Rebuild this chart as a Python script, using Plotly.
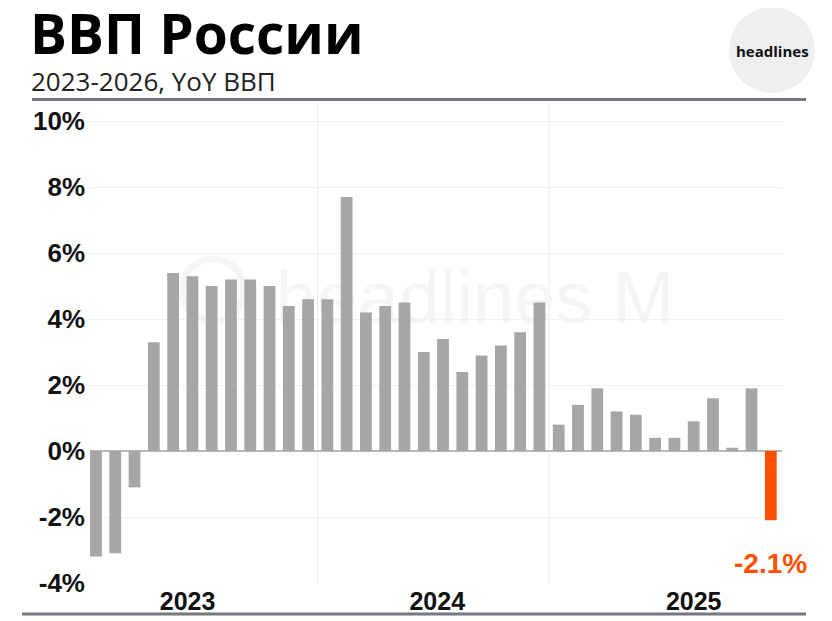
import plotly.graph_objects as go

# monthly GDP growth, % year over year (Jan 2023 - Dec 2025)
months = [f"{y}-{m:02d}" for y in (2023, 2024, 2025) for m in range(1, 13)]
gdp_yoy = [
    -3.2, -3.1, -1.1, 3.3, 5.4, 5.3, 5.0, 5.2, 5.2, 5.0, 4.4, 4.6,
    4.6, 7.7, 4.2, 4.4, 4.5, 3.0, 3.4, 2.4, 2.9, 3.2, 3.6, 4.5,
    0.8, 1.4, 1.9, 1.2, 1.1, 0.4, 0.4, 0.9, 1.6, 0.1, 1.9, -2.1,
]
year_labels = ["2023", "2024", "2025"]
y_ticks = [-4, -2, 0, 2, 4, 6, 8, 10]

GRAY = "#a6a6a6"
ORANGE = "#ff5000"
OFF = 8  # the page body margin
W, H = 832 - OFF, 621 - OFF
L, T = 90 - OFF, 104 - OFF
PW, PH = 692, 480
R, B = W - L - PW, H - T - PH

# page pixel -> paper helpers for the decorations around the plot
def px_x(p):
    return (p - OFF - L) / PW

def px_y(p):
    return (T + PH - (p - OFF)) / PH

x = list(range(len(months)))
colors = [GRAY] * (len(x) - 1) + [ORANGE]

fig = go.Figure(
    go.Bar(x=x, y=gdp_yoy, marker=dict(color=colors, line_width=0),
           hovertext=months, showlegend=False)
)

fig.update_layout(
    width=W, height=H,
    margin=dict(l=L, r=R, t=T, b=B),
    paper_bgcolor="white", plot_bgcolor="white",
    bargap=0.39,
    font=dict(family="Liberation Sans, Arial, sans-serif", color="#111"),
)

fig.update_xaxes(
    automargin=False,
    range=[-0.31, 35.58],
    tickvals=[4.75, 17.7, 31.0], ticktext=year_labels,
    tickfont=dict(size=25, weight="bold", color="#111"),
    ticks="", ticklabelstandoff=0,
    showgrid=False, zeroline=False, showline=False,
)
fig.update_yaxes(
    automargin=False,
    range=[-4.03, 10.52],
    tickvals=y_ticks, ticktext=[f"{v}%" for v in y_ticks],
    tickfont=dict(size=26, weight="bold", color="#111"),
    ticklabelstandoff=4,
    gridcolor="#f1f1f1", gridwidth=1,
    zeroline=True, zerolinecolor="#b8b8b8", zerolinewidth=1.5,
    showline=False,
)

# year separators
for xs in (11.5, 23.5):
    fig.add_shape(type="line", xref="x", yref="paper", x0=xs, x1=xs, y0=0, y1=1,
                  line=dict(color="#e9e9e9", width=1), layer="below")

# faint watermark behind the bars
fig.add_shape(type="circle", xref="paper", yref="paper",
              x0=px_x(182), x1=px_x(244), y0=px_y(321), y1=px_y(259),
              line=dict(color="#f6f6f6", width=7), layer="below")
fig.add_shape(type="rect", xref="paper", yref="paper",
              x0=px_x(260), x1=px_x(690), y0=px_y(330), y1=px_y(250),
              line_width=0, fillcolor="rgba(0,0,0,0)", layer="below",
              label=dict(text="headlines M",
                         font=dict(size=74, color="#f5f5f5", family="Liberation Sans, Arial"),
                         textposition="middle center"))

# header / footer rules
fig.add_shape(type="line", xref="paper", yref="paper",
              x0=px_x(32), x1=px_x(806), y0=px_y(99.5), y1=px_y(99.5),
              line=dict(color="#77777f", width=3))
fig.add_shape(type="line", xref="paper", yref="paper",
              x0=px_x(22), x1=px_x(806), y0=px_y(614), y1=px_y(614),
              line=dict(color="#77777f", width=3))

# logo badge
fig.add_shape(type="circle", xref="paper", yref="paper",
              x0=px_x(729), x1=px_x(815), y0=px_y(93), y1=px_y(7),
              fillcolor="#efefef", line_width=0)
fig.add_annotation(xref="paper", yref="paper", x=px_x(772), y=px_y(51),
                   xanchor="center", yanchor="middle",
                   text="<b>headlines</b>", showarrow=False,
                   font=dict(size=15, color="#111", family="Open Sans, Arial"))

# title and subtitle
fig.add_annotation(xref="paper", yref="paper", x=px_x(28), y=px_y(32),
                   xanchor="left", yanchor="middle", showarrow=False,
                   text="<b>ВВП России</b>",
                   font=dict(size=55, color="#000", family="Open Sans, Arial"))
fig.add_annotation(xref="paper", yref="paper", x=px_x(29), y=px_y(81),
                   xanchor="left", yanchor="middle", showarrow=False,
                   text="2023-2026, YoY ВВП",
                   font=dict(size=26, color="#222", family="Open Sans, Arial"))

# last value callout
fig.add_annotation(xref="x", yref="paper", x=len(x) - 1, y=px_y(563),
                   xanchor="center", yanchor="middle",
                   text=f"<b>{gdp_yoy[-1]}%</b>", showarrow=False,
                   bgcolor="white",
                   font=dict(size=28, color=ORANGE, family="Liberation Sans, Arial"))

fig.write_html("out.html")
